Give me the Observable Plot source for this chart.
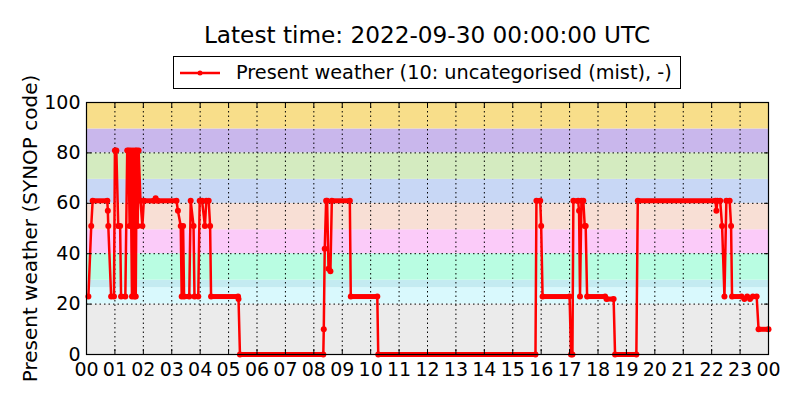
<!DOCTYPE html>
<html>
<head>
<meta charset="utf-8">
<script src="https://cdn.jsdelivr.net/npm/d3@7"></script>
<script src="https://cdn.jsdelivr.net/npm/@observablehq/plot@0.6"></script>
<style>
  body { margin: 0; background: #fff; font-family: "DejaVu Sans", sans-serif; }
  #wrap { position: relative; width: 800px; height: 400px; }
  #chart { position: absolute; left: 0; top: 0; }
  #title { position: absolute; left: 0; width: 854px; top: 21px; text-align: center; font-size: 23.2px; color: #000; z-index: 2; }
  #legend { position: absolute; left: 173px; top: 56px; width: 506px; height: 31px; border: 1px solid #000; background: #fff;
            font-size: 19.3px; display: flex; align-items: center; z-index: 2; }
  #legend svg { margin-left: 5px; margin-right: 15px; }
</style>
</head>
<body>
<div id="wrap">
  <div id="chart"></div>
  <div id="title">Latest time: 2022-09-30 00:00:00 UTC</div>
  <div id="legend">
    <svg width="42" height="10"><line x1="1" y1="5" x2="41" y2="5" stroke="red" stroke-width="2.5"/><circle cx="21" cy="5" r="2.5" fill="red"/></svg>
    <span>Present weather (10: uncategorised (mist), -)</span>
  </div>
</div>
<script>
const obsTimes = [
  "00:04","00:10","00:13","00:44","00:45","00:46","00:52","00:58","01:00","01:03",
  "01:07","01:11","01:13","01:22","01:26","01:29","01:31","01:33","01:36","01:38",
  "01:40","01:41","01:43","01:44","01:46","01:48","01:50","01:54","01:58","02:01",
  "02:22","02:26","02:30","03:10","03:13","03:19","03:21","03:24","03:26","03:37",
  "03:40","03:46","03:48","03:56","03:59","04:04","04:10","04:13","04:18","04:21",
  "04:23","05:20","05:21","05:24","08:20","08:21","08:23","08:26","08:28","08:31",
  "08:35","08:38","09:16","09:18","10:14","10:16","15:48","15:50","15:58","16:00",
  "16:03","17:00","17:03","17:06","17:08","17:18","17:20","17:22","17:25","17:29",
  "17:32","17:34","17:37","18:15","18:18","18:33","18:36","19:21","19:24","22:08",
  "22:10","22:12","22:18","22:22","22:27","22:31","22:38","22:41","22:43","23:03",
  "23:09","23:15","23:21","23:27","23:35","23:39","24:00"
];
const obsValues = [
  23, 51, 61, 61, 57, 51, 23, 23, 81, 81,
  51, 51, 23, 23, 81, 81, 51, 81, 23, 81,
  51, 23, 81, 23, 81, 51, 81, 61, 51, 61,
  61, 62, 61, 61, 57, 51, 23, 51, 23, 23,
  61, 51, 23, 23, 61, 61, 51, 61, 61, 51,
  23, 23, 22, 0, 0, 10, 42, 61, 61, 34,
  33, 61, 61, 23, 23, 0, 0, 61, 61, 51,
  23, 23, 0, 0, 61, 61, 57, 23, 61, 61,
  51, 51, 23, 23, 22, 22, 0, 0, 61, 61,
  57, 61, 61, 51, 23, 61, 61, 51, 23, 23,
  22, 23, 22, 23, 23, 10, 10
];

// SYNOP code bands (background)
const bandLo = [0, 20, 26.5, 29.5, 40, 49.5, 60, 69.5, 80, 89.5];
const bandHi = [20, 26.5, 29.5, 40, 49.5, 60, 69.5, 80, 89.5, 100];
const bandColors = ["#ebebeb", "#d9f9fd", "#c4ebf1", "#b9fde2", "#fbcbf9", "#f8dfd5", "#c8d7f5", "#d4ebc0", "#c9b7ec", "#f8de8a"];

const yTicks = [0, 20, 40, 60, 80, 100];
const yLabel = "Present weather (SYNOP code)";

const day0 = Date.UTC(2022, 8, 29);
const toDate = t => {
  const [h, m] = t.split(":").map(Number);
  return new Date(day0 + (h * 60 + m) * 60000);
};

const obs = obsTimes.map((t, i) => ({time: toDate(t), value: obsValues[i]}));
const bands = bandLo.map((lo, i) => ({lo, hi: bandHi[i], color: bandColors[i]}));

// flat stretches are covered by markers in the original, draw them thick
const flats = [];
for (let i = 0; i < obs.length - 1; i++) {
  if (obs[i].value === obs[i + 1].value) flats.push({x1: obs[i].time, x2: obs[i + 1].time, y: obs[i].value});
}

const hours = d3.utcHour.every(1);

const chart = Plot.plot({
  width: 800,
  height: 400,
  marginTop: 102,
  marginBottom: 46,
  marginLeft: 86,
  marginRight: 32,
  style: {fontFamily: "DejaVu Sans, sans-serif", fontSize: "19px", color: "#000", background: "#fff"},
  x: {type: "utc", domain: [new Date(day0), new Date(day0 + 86400000)]},
  y: {domain: [0, 100]},
  color: {type: "identity"},
  marks: [
    Plot.rect(bands, {y1: "lo", y2: "hi", fill: "color"}),
    Plot.gridX({ticks: hours, stroke: "#000", strokeOpacity: 1, strokeDasharray: "1.5,3"}),
    Plot.gridY(yTicks, {stroke: "#000", strokeOpacity: 1, strokeDasharray: "1.5,3"}),
    Plot.link(flats, {x1: "x1", x2: "x2", y1: "y", y2: "y", stroke: "red", strokeWidth: 5}),
    Plot.line(obs, {x: "time", y: "value", stroke: "red", strokeWidth: 2.5}),
    Plot.dot(obs, {x: "time", y: "value", fill: "red", r: 3}),
    // inward ticks on all four sides
    Plot.axisX({ticks: hours, tickSize: -5, text: null, label: null}),
    Plot.axisX({anchor: "top", ticks: hours, tickSize: -5, text: null, label: null}),
    Plot.axisY(yTicks, {tickSize: -5, text: null, label: null}),
    Plot.axisY(yTicks, {anchor: "right", tickSize: -5, text: null, label: null}),
    Plot.axisX({ticks: hours, tickFormat: d3.utcFormat("%H"), tickSize: 0, tickPadding: 8, label: null, fontSize: 19}),
    Plot.axisY(yTicks, {tickSize: 0, tickPadding: 6, label: null, fontSize: 19}),
    Plot.text([yLabel], {frameAnchor: "left", textAnchor: "middle", rotate: -90, dx: -56, fontSize: 20, fill: "#000"}),
    Plot.frame({stroke: "#000", strokeWidth: 1.2})
  ]
});

d3.select("#chart").append(() => chart);
</script>
</body>
</html>
